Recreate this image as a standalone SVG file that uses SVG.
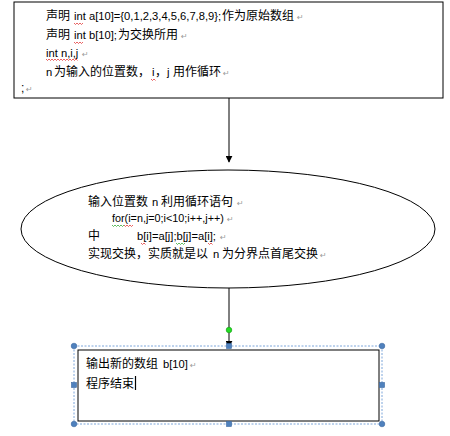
<svg xmlns="http://www.w3.org/2000/svg" width="450" height="436" viewBox="0 0 450 436">
<style>
.t{font-family:"Liberation Sans","Noto Sans CJK SC",sans-serif;font-size:12px;fill:#000}
.l{font-size:11.2px}
.pm{font-family:"DejaVu Sans",sans-serif;font-size:8px;fill:#9a9a9a}
.shape{fill:#fff;stroke:#000;stroke-width:1}
.con{stroke:#000;stroke-width:1;fill:none}
.red{stroke:#e02020;stroke-width:0.7;fill:none}
.grn{stroke:#20a020;stroke-width:0.7;fill:none}
.h{fill:#4f81bd;stroke:#3a66a0;stroke-width:0.6}
</style>
<defs>
<marker id="ah" viewBox="0 0 10 10" refX="9" refY="5" markerWidth="7" markerHeight="7" orient="auto" markerUnits="userSpaceOnUse">
<path d="M0,0 L10,5 L0,10 z" fill="#000"/>
</marker>
</defs>
<rect width="450" height="436" fill="#fff"/>
<g id="connectors">
<line class="con" x1="229" y1="98" x2="229" y2="162" marker-end="url(#ah)"/>
<line class="con" x1="229" y1="288" x2="229" y2="347" marker-end="url(#ah)"/>
</g>
<g id="node-declare">
<rect class="shape" x="14" y="2" width="429" height="96" stroke="#444"/>
<text class="t" y="20"><tspan x="46">声明</tspan><tspan class="l" x="74">int a[10]={0,1,2,3,4,5,6,7,8,9};</tspan><tspan x="222">作为原始数组</tspan></text>
<text class="pm" x="297" y="20">↵</text>
<text class="t" y="39"><tspan x="46">声明</tspan><tspan class="l" x="74">int b[10];</tspan><tspan x="118">为交换所用</tspan></text>
<text class="pm" x="181" y="39">↵</text>
<text class="t" y="57"><tspan class="l" x="46">int n,i,j</tspan></text>
<text class="pm" x="82" y="57">↵</text>
<text class="t" y="76"><tspan class="l" x="46">n</tspan><tspan x="54">为输入的位置数，</tspan><tspan class="l" x="152">i</tspan><tspan x="155">，</tspan><tspan class="l" x="167">j</tspan><tspan x="173">用作循环</tspan></text>
<text class="pm" x="223" y="76">↵</text>
<text class="t" x="21" y="92">;</text>
<text class="pm" x="26" y="92">↵</text>
<path class="red" d="M74,23 l1.5,1.5 l1.5,-1.5 l1.5,1.5 l1.5,-1.5 l1.5,1.5 l1.5,-1.5"/>
<path class="red" d="M74,42 l1.5,1.5 l1.5,-1.5 l1.5,1.5 l1.5,-1.5 l1.5,1.5 l1.5,-1.5"/>
<path class="red" d="M46,59 l1.5,1.5 l1.5,-1.5 l1.5,1.5 l1.5,-1.5 l1.5,1.5 l1.5,-1.5 l1.5,1.5 l1.5,-1.5 l1.5,1.5 l1.5,-1.5 l1.5,1.5 l1.5,-1.5 l1.5,1.5 l1.5,-1.5 l1.5,1.5 l1.5,-1.5 l1.5,1.5 l1.5,-1.5 l1.5,1.5 l1.5,-1.5 l1.5,1.5"/>
<path class="red" d="M151,79 l1.5,1.5 l1.5,-1.5 l1.5,1.5"/>
</g>
<g id="node-loop">
<ellipse class="shape" cx="228" cy="229" rx="207" ry="59" stroke="#333"/>
<text class="t" y="206"><tspan x="88">输入位置数</tspan><tspan class="l" x="152">n</tspan><tspan x="161">利用循环语句</tspan></text>
<text class="pm" x="237" y="206">↵</text>
<text class="t" y="222"><tspan class="l" x="112" style="font-size:10.8px">for(i=n,j=0;i&lt;10;i++,j++)</tspan></text>
<text class="pm" x="227" y="222">↵</text>
<text class="t" y="240"><tspan x="88">中</tspan><tspan class="l" x="137">b[i]=a[j];b[j]=a[i];</tspan></text>
<text class="pm" x="220" y="240">↵</text>
<text class="t" y="258"><tspan x="88">实现交换，实质就是以</tspan><tspan class="l" x="213">n</tspan><tspan x="222">为分界点首尾交换</tspan></text>
<text class="pm" x="320" y="258">↵</text>
<path class="grn" d="M112,225 l1.5,1.5 l1.5,-1.5 l1.5,1.5 l1.5,-1.5 l1.5,1.5 l1.5,-1.5 l1.5,1.5 l1.5,-1.5"/>
<path class="red" d="M124,225 l1.5,1.5 l1.5,-1.5 l1.5,1.5 l1.5,-1.5 l1.5,1.5 l1.5,-1.5"/>
<path class="red" d="M141,243 l1.5,1.5 l1.5,-1.5 l1.5,1.5"/>
<path class="grn" d="M176,243 l1.5,1.5 l1.5,-1.5 l1.5,1.5 l1.5,-1.5 l1.5,1.5 l1.5,-1.5"/>
<path class="red" d="M208,243 l1.5,1.5 l1.5,-1.5 l1.5,1.5"/>
</g>
<g id="node-output">
<rect x="74" y="346" width="308" height="78" fill="none" stroke="#5b8fd0" stroke-width="0.8" stroke-dasharray="2,1.5"/>
<rect class="shape" x="78" y="350" width="301" height="71" stroke="#333"/>
<text class="t" y="368"><tspan x="86">输出新的数组</tspan><tspan class="l" x="163">b[10]</tspan></text>
<text class="pm" x="190" y="368">↵</text>
<text class="t" x="86" y="388">程序结束</text>
<line x1="135.5" y1="376" x2="135.5" y2="390" stroke="#000" stroke-width="1.2"/>
<circle class="h" cx="74" cy="346" r="2.8"/>
<circle class="h" cx="382" cy="346" r="2.8"/>
<circle class="h" cx="74" cy="424" r="2.8"/>
<circle class="h" cx="382" cy="424" r="2.8"/>
<rect class="h" x="226.5" y="343.5" width="5" height="5"/>
<rect class="h" x="71.5" y="382.5" width="5" height="5"/>
<rect class="h" x="379.5" y="382.5" width="5" height="5"/>
<rect class="h" x="226.5" y="421.5" width="5" height="5"/>
<circle cx="229" cy="330" r="2.8" fill="#22dd22" stroke="#119911" stroke-width="0.6"/>
</g>
</svg>
